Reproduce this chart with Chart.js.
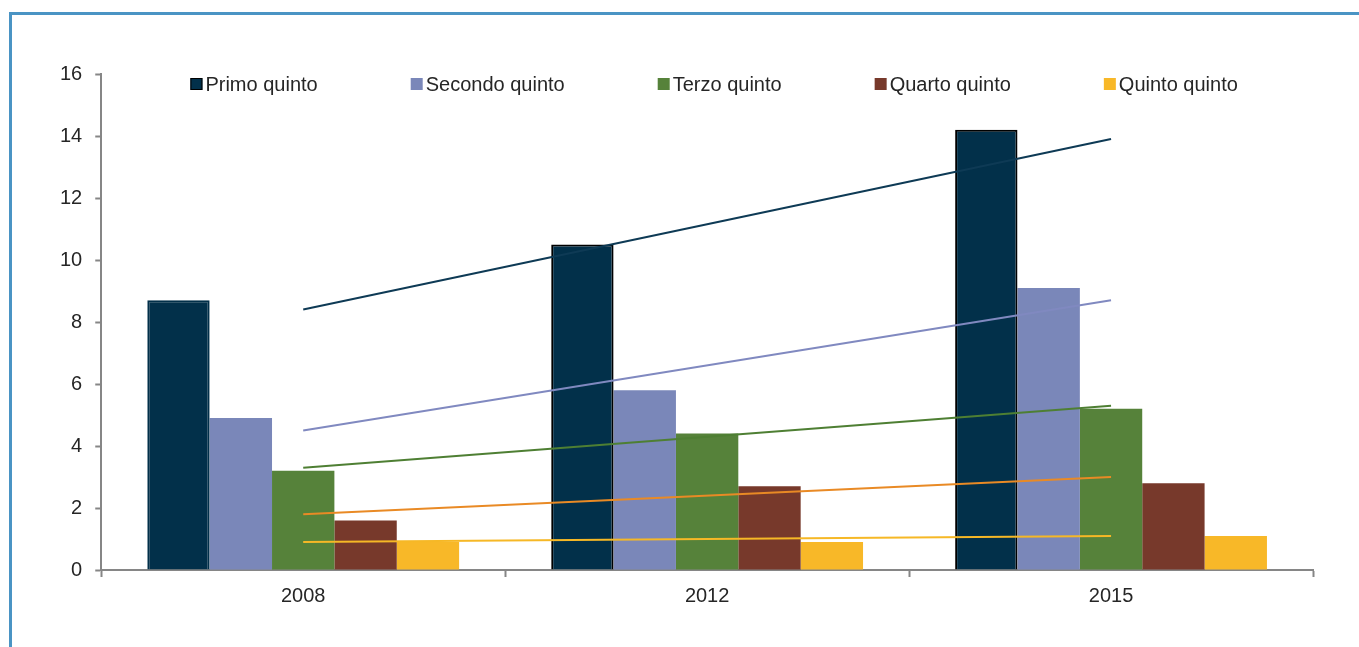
<!DOCTYPE html>
<html>
<head>
<meta charset="utf-8">
<script src="https://cdn.jsdelivr.net/npm/chart.js@4.4.1/dist/chart.umd.min.js"></script>
<style>
  html, body { margin: 0; padding: 0; background: #fff; overflow: hidden; }
  #cornice {
    position: absolute; left: 9px; top: 12px; width: 1400px; height: 700px;
    border-top: 3px solid #4a94c4; border-left: 3px solid #4a94c4;
  }
  #box { position: absolute; left: 0; top: 0; width: 1359px; height: 647px; }
</style>
</head>
<body>
<div id="cornice"></div>
<div id="box"><canvas id="grafico"></canvas></div>
<script>
// categorie e valori
const anni = ['2008', '2012', '2015'];
const primo   = [8.7, 10.5, 14.2];
const secondo = [4.9, 5.8, 9.1];
const terzo   = [3.2, 4.4, 5.2];
const quarto  = [1.6, 2.7, 2.8];
const quinto  = [0.9, 0.9, 1.1];

// linee di tendenza: valore iniziale (2008) e finale (2015)
const trendPrimo   = [8.4, null, 13.9];
const trendSecondo = [4.5, null, 8.7];
const trendTerzo   = [3.3, null, 5.3];
const trendQuarto  = [1.8, null, 3.0];
const trendQuinto  = [0.9, null, 1.1];

const tickY = [0, 2, 4, 6, 8, 10, 12, 14, 16];

const FONT = '"Liberation Sans", Arial, sans-serif';
const TESTO = '#262626';
const ASSE = '#868686';

function barra(label, data, colore, bordo) {
  return {
    type: 'bar', label: label, data: data, order: 2,
    backgroundColor: colore,
    borderColor: bordo || colore,
    borderWidth: bordo ? 2 : 0,
    categoryPercentage: 0.772, barPercentage: 1
  };
}

function tendenza(data, colore) {
  return {
    type: 'line', label: '', data: data, order: 0,
    borderColor: colore, borderWidth: 2,
    pointRadius: 0, spanGaps: true, fill: false, tendenza: true
  };
}

// legenda dentro l'area del grafico
const legendaInterna = {
  id: 'legendaInterna',
  afterDraw(chart) {
    const ctx = chart.ctx;
    const voci = chart.data.datasets.filter(d => !d.tendenza);
    const box = 12, gap = 3, spazio = 93;
    ctx.save();
    ctx.font = '20px ' + FONT;
    const larghezze = voci.map(d => box + gap + ctx.measureText(d.label).width);
    const totale = larghezze.reduce((a, b) => a + b, 0) + spazio * (voci.length - 1);
    const area = chart.chartArea;
    let x = (area.left + area.right) / 2 + 7 - totale / 2;
    const y = area.top + 10;
    voci.forEach((d, i) => {
      ctx.fillStyle = d.backgroundColor;
      ctx.fillRect(x, y - box / 2, box, box);
      if (i === 0) {
        ctx.strokeStyle = '#000';
        ctx.lineWidth = 1;
        ctx.strokeRect(x + 0.5, y - box / 2 + 0.5, box - 1, box - 1);
      }
      ctx.fillStyle = TESTO;
      ctx.textBaseline = 'middle';
      ctx.textAlign = 'left';
      ctx.fillText(d.label, x + box + gap, y + 1);
      x += larghezze[i] + spazio;
    });
    ctx.restore();
  }
};

new Chart(document.getElementById('grafico'), {
  data: {
    labels: anni,
    datasets: [
      tendenza(trendPrimo, '#0e3a55'),
      tendenza(trendSecondo, '#8089c0'),
      tendenza(trendTerzo, '#4e7f33'),
      tendenza(trendQuarto, '#e98a25'),
      tendenza(trendQuinto, '#f6b826'),
      barra('Primo quinto', primo, '#02304a', ['#02304a', '#000', '#000']),
      barra('Secondo quinto', secondo, '#7a87b9'),
      barra('Terzo quinto', terzo, '#56823a'),
      barra('Quarto quinto', quarto, '#77392b'),
      barra('Quinto quinto', quinto, '#f8b828')
    ]
  },
  options: {
    responsive: true,
    maintainAspectRatio: false,
    animation: false,
    layout: { padding: { left: 47, right: 46, top: 74, bottom: 32 } },
    plugins: {
      legend: { display: false },
      tooltip: { enabled: false }
    },
    scales: {
      x: {
        type: 'category',
        offset: true,
        grid: { offset: true, drawOnChartArea: false, tickLength: 7, tickColor: ASSE, tickWidth: 2 },
        border: { color: ASSE, width: 2 },
        ticks: { color: TESTO, font: { family: FONT, size: 20 }, padding: 7, maxRotation: 0 }
      },
      y: {
        min: 0, max: 16,
        afterBuildTicks(scale) { scale.ticks = tickY.map(v => ({ value: v })); },
        grid: { drawOnChartArea: false, tickLength: 6, tickColor: ASSE, tickWidth: 2 },
        border: { color: ASSE, width: 2 },
        ticks: { color: TESTO, font: { family: FONT, size: 20 }, padding: 13 }
      }
    }
  },
  plugins: [legendaInterna]
});
</script>
</body>
</html>
